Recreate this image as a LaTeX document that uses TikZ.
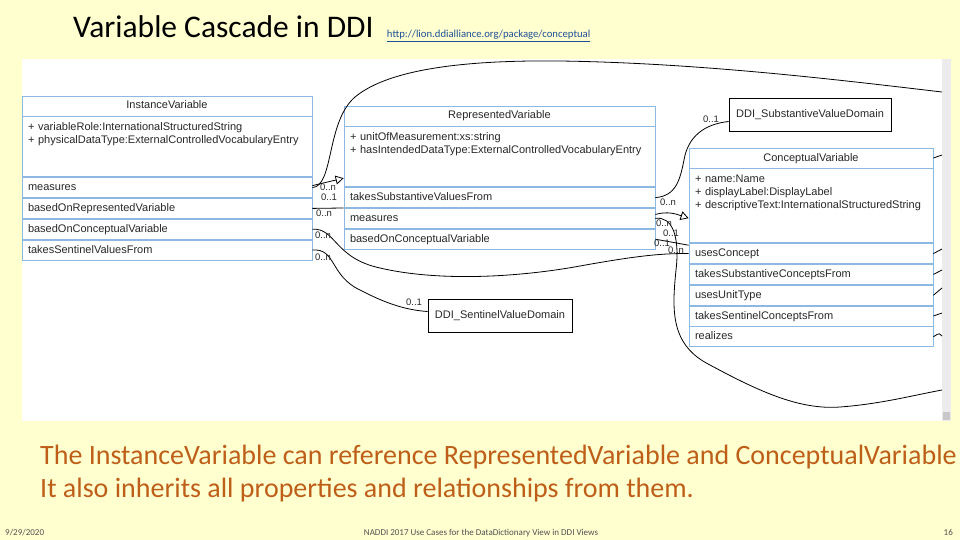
\documentclass[tikz,border=0pt]{standalone}
\usepackage{fontspec}
\setmainfont{Carlito}
\newfontfamily\umlfont{Liberation Sans}
\usepackage{tikz}
\usetikzlibrary{arrows.meta, positioning}
\definecolor{myyellow}{RGB}{255,255,208}
\definecolor{myblue}{RGB}{140,185,225}
\definecolor{mydark}{RGB}{40,40,40}
\definecolor{myorange}{RGB}{190,95,25}
\definecolor{mylink}{RGB}{30,80,150}
\definecolor{myscroll}{RGB}{236,236,236}
\definecolor{mythumb}{RGB}{200,200,200}
\definecolor{mygrey}{RGB}{80,80,80}
\tikzset{
  chead/.style={rectangle, draw=myblue, fill=white, text width=#1,
    inner xsep=6pt, align=center, minimum height=20pt, text height=8pt,
    text depth=2pt, font=\umlfont\fontsize{11}{13}\selectfont, text=mydark, line width=0.8pt},
  cattr/.style 2 args={rectangle, draw=myblue, fill=white, text width=#1,
    inner xsep=6pt, inner ysep=3pt, align=left, text height=11pt, text depth=#2,
    font=\umlfont\fontsize{11}{13}\selectfont, text=mydark, line width=0.8pt},
  crow/.style={rectangle, draw=myblue, fill=white, text width=#1,
    inner xsep=6pt, align=left, minimum height=20pt, text height=8pt,
    text depth=2pt, font=\umlfont\fontsize{11}{13}\selectfont, text=mydark, line width=0.8pt},
  dombox/.style={rectangle, draw=black, fill=white, minimum height=33pt,
    font=\umlfont\fontsize{11}{13}\selectfont, text=mydark, line width=0.8pt},
  mult/.style={font=\umlfont\fontsize{9.5}{11}\selectfont, text=mydark, inner sep=0pt},
  assoc/.style={line width=0.8pt, draw=black},
  gen/.style={assoc, -{Triangle[open, length=8pt, width=9pt]}},
  note/.style={anchor=base west, inner sep=0pt, font=\fontsize{28}{33}\selectfont, text=myorange},
  footer/.style={font=\fontsize{9}{11}\selectfont, text=mygrey, inner sep=0pt}
}
\begin{document}
\begin{tikzpicture}[x=1pt, y=-1pt, node distance=0pt]
  \fill[myyellow] (0,0) rectangle (960,540);
  \useasboundingbox (0,0) rectangle (960,540);
  \fill[white] (22,59) rectangle (942,421);
  \fill[myscroll] (942,59) rectangle (951,421);
  \fill[mythumb] (943,412) rectangle (950,420);

  \node[anchor=base west, inner sep=0pt, font=\fontsize{31.5}{36}\selectfont] (title) at (73,38) {Variable Cascade in DDI};
  \node[base right=13pt of title, inner sep=0pt, font=\fontsize{10.7}{12}\selectfont, text=mylink] (url) {\underline{http://lion.ddialliance.org/package/conceptual}};

  \node[chead=278pt] (iv) at (167,106) {InstanceVariable};
  \node[cattr={278pt}{43pt}, below=of iv] (iva) {+ variableRole:InternationalStructuredString\\+ physicalDataType:ExternalControlledVocabularyEntry};
  \node[crow=278pt, below=of iva] (iv1) {measures};
  \node[crow=278pt, below=of iv1] (iv2) {basedOnRepresentedVariable};
  \node[crow=278pt, below=of iv2] (iv3) {basedOnConceptualVariable};
  \node[crow=278pt, below=of iv3] (iv4) {takesSentinelValuesFrom};

  \node[chead=299pt] (rv) at (499.5,116) {RepresentedVariable};
  \node[cattr={299pt}{43pt}, below=of rv] (rva) {+ unitOfMeasurement:xs:string\\+ hasIntendedDataType:ExternalControlledVocabularyEntry};
  \node[crow=299pt, below=of rva] (rv1) {takesSubstantiveValuesFrom};
  \node[crow=299pt, below=of rv1] (rv2) {measures};
  \node[crow=299pt, below=of rv2] (rv3) {basedOnConceptualVariable};

  \node[chead=232pt] (cv) at (811,158) {ConceptualVariable};
  \node[cattr={232pt}{57pt}, below=of cv] (cva) {+ name:Name\\+ displayLabel:DisplayLabel\\+ descriptiveText:InternationalStructuredString};
  \node[crow=232pt, below=of cva] (cv1) {usesConcept};
  \node[crow=232pt, below=of cv1] (cv2) {takesSubstantiveConceptsFrom};
  \node[crow=232pt, below=of cv2] (cv3) {usesUnitType};
  \node[crow=232pt, below=of cv3] (cv4) {takesSentinelConceptsFrom};
  \node[crow=232pt, below=of cv4] (cv5) {realizes};

  \node[dombox, minimum width=162pt] (subst) at (810,114.5) {DDI\_SubstantiveValueDomain};
  \node[dombox, minimum width=144pt] (sent) at (500,315.5) {DDI\_SentinelValueDomain};

  \coordinate (edgetop) at (942,92);
  \coordinate (edgebot) at (942,390);
  \coordinate (stub0) at (942,155);
  \coordinate (stub1) at (942,249);
  \coordinate (stub2) at (942,270);
  \coordinate (stub3) at (942,288);
  \coordinate (stub4) at (942,313);
  \coordinate (stub5) at (942,336);

  \draw[assoc] (iv1.east) .. controls (334,186) and (326,122) .. (355,97)
    .. controls (390,68) and (470,60) .. (560,61)
    .. controls (700,63) and (840,80) .. (edgetop);
  \draw[gen] ([yshift=2pt]iv1.east) -- ([yshift=9pt]rva.south west);
  \draw[assoc] (iv2.east) -- (rv1.south west);
  \draw[assoc] (iv3.east) .. controls (336,228) and (334,258) .. (380,268)
    .. controls (440,282) and (520,277) .. (580,266)
    .. controls (630,257) and (660,253) .. (cv1.west);
  \draw[assoc] (iv4.east) .. controls (336,248) and (330,276) .. (360,290)
    .. controls (385,303) and (405,310) .. ([yshift=4pt]sent.west);

  \draw[assoc] (rv1.east) .. controls (676,196) and (680,180) .. (684,160)
    .. controls (688,136) and (705,124) .. ([yshift=-7pt]subst.west);
  \draw[gen] ([yshift=4pt]rv2.east) .. controls (668,211) and (676,214) .. ([yshift=25pt]cva.south west);
  \draw[assoc] (rv2.east) .. controls (672,216) and (680,236) .. (676,270)
    .. controls (672,310) and (670,345) .. (710,365)
    .. controls (760,392) and (800,410) .. (840,407)
    .. controls (880,404) and (910,396) .. (edgebot);
  \draw[assoc] (rv3.east) -- ([yshift=-2pt]cv1.north west);

  \draw[assoc] (cv.east) -- (stub0);
  \draw[assoc] (cv1.east) -- (stub1);
  \draw[assoc] (cv2.east) -- (stub2);
  \draw[assoc] (cv3.east) -- (stub3);
  \draw[assoc] (cv4.east) -- (stub4);
  \draw[assoc] (cv5.east) .. controls (940,332) and (940,334) .. (stub5);

  \node[mult] (m1) at (328,187) {0..n};
  \node[mult] (m2) at (329,197.5) {0..1};
  \node[mult] (m3) at (324,213) {0..n};
  \node[mult] (m4) at (323,235) {0..n};
  \node[mult] (m5) at (323,257) {0..n};
  \node[mult] (m6) at (414,302) {0..1};
  \node[mult] (m7) at (668,202) {0..n};
  \node[mult] (m8) at (711,119) {0..1};
  \node[mult] (m9) at (664,223) {0..n};
  \node[mult] (m10) at (671,233) {0..1};
  \node[mult] (m11) at (662,243) {0..1};
  \node[mult] (m12) at (676,250) {0..n};

  \node[note] (note1) at (40,464) {The InstanceVariable can reference RepresentedVariable and ConceptualVariable};
  \node[note] (note2) at (40,497) {It also inherits all properties and relationships from them.};

  \node[footer, anchor=base west] (date) at (5,535) {9/29/2020};
  \node[footer, anchor=base] (foot) at (481,535) {NADDI 2017 Use Cases for the DataDictionary View in DDI Views};
  \node[footer, anchor=base east] (page) at (953,535) {16};
\end{tikzpicture}
\end{document}
